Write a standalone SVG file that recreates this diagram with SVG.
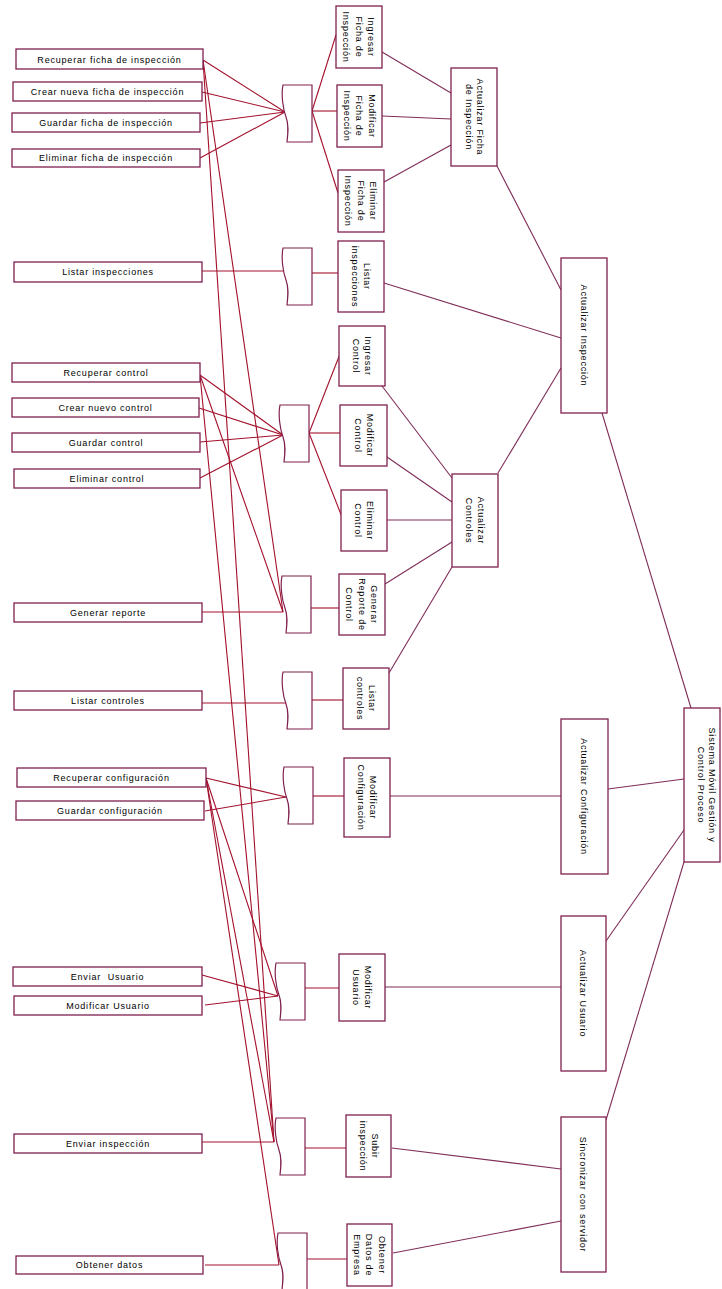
<svg xmlns="http://www.w3.org/2000/svg" xmlns:xlink="http://www.w3.org/1999/xlink" width="722" height="1289" viewBox="0 0 722 1289">
  <style>
    .box { fill: #ffffff; stroke: #80204f; stroke-width: 1.3; }
    .fold { fill: #ffffff; stroke: #80204f; stroke-width: 1.2; }
    .lbl { font-family: "Liberation Sans", Arial, sans-serif; font-size: 9px; letter-spacing: 0.8px; fill: #000000; text-anchor: middle; }
    .vl { font-family: "Liberation Sans", Arial, sans-serif; font-size: 9px; letter-spacing: 0.8px; fill: #000000; text-anchor: middle; }
    .op { stroke: #a3102c; stroke-width: 1.1; fill: none; }
    .ln { stroke: #7f2d58; stroke-width: 1.1; fill: none; }
  </style>
  <defs>
    <!-- screen / interface symbol with a wavy left side -->
    <path id="folder" d="M1,0 H30 V57 H5 C6,48 7,40 4,32 C1,24 -1,10 1,0 Z"/>
  </defs>
  <rect width="722" height="1289" fill="#ffffff"/>

  <g id="connectors">
    <!-- operations to screens -->
    <line class="op" x1="203" y1="60" x2="285" y2="112"/>
    <line class="op" x1="202" y1="92" x2="285" y2="112"/>
    <line class="op" x1="200" y1="123" x2="285" y2="112"/>
    <line class="op" x1="200" y1="158" x2="285" y2="112"/>
    <line class="op" x1="202" y1="271" x2="283" y2="271"/>
    <line class="op" x1="200" y1="375" x2="283" y2="435"/>
    <line class="op" x1="199" y1="408" x2="283" y2="435"/>
    <line class="op" x1="200" y1="442" x2="283" y2="435"/>
    <line class="op" x1="200" y1="478" x2="283" y2="435"/>
    <line class="op" x1="202" y1="612" x2="283" y2="612"/>
    <line class="op" x1="202" y1="703" x2="286" y2="703"/>
    <line class="op" x1="206" y1="778" x2="286" y2="797"/>
    <line class="op" x1="205" y1="811" x2="286" y2="797"/>
    <line class="op" x1="202" y1="975" x2="278" y2="996"/>
    <line class="op" x1="205" y1="1005" x2="278" y2="996"/>
    <line class="op" x1="200" y1="1142" x2="274" y2="1142"/>
    <line class="op" x1="205" y1="1265" x2="279" y2="1265"/>
    <!-- shared operations reaching lower screens -->
    <line class="op" x1="203" y1="60" x2="283" y2="612"/>
    <line class="op" x1="203" y1="60" x2="274" y2="1142"/>
    <line class="op" x1="200" y1="375" x2="283" y2="612"/>
    <line class="op" x1="200" y1="375" x2="274" y2="1142"/>
    <line class="op" x1="206" y1="778" x2="278" y2="996"/>
    <line class="op" x1="206" y1="778" x2="274" y2="1142"/>
    <line class="op" x1="206" y1="778" x2="279" y2="1265"/>

    <!-- screens to use cases -->
    <line class="op" x1="312" y1="111" x2="336" y2="35"/>
    <line class="op" x1="312" y1="111" x2="337" y2="111"/>
    <line class="op" x1="312" y1="111" x2="338" y2="193"/>
    <line class="op" x1="312" y1="273" x2="338" y2="273"/>
    <line class="op" x1="309" y1="433" x2="340" y2="354"/>
    <line class="op" x1="309" y1="433" x2="340" y2="433"/>
    <line class="op" x1="309" y1="433" x2="342" y2="517"/>
    <line class="op" x1="311" y1="608" x2="339" y2="608"/>
    <line class="op" x1="312" y1="700" x2="343" y2="700"/>
    <line class="op" x1="312" y1="796" x2="344" y2="796"/>
    <line class="op" x1="304" y1="988" x2="339" y2="988"/>
    <line class="op" x1="304" y1="1148" x2="346" y2="1148"/>
    <line class="op" x1="306" y1="1259" x2="347" y2="1259"/>

    <!-- use cases to grouping cases -->
    <line class="ln" x1="382" y1="52" x2="451" y2="93"/>
    <line class="ln" x1="382" y1="116" x2="451" y2="119"/>
    <line class="ln" x1="384" y1="182" x2="451" y2="145"/>
    <line class="ln" x1="382" y1="386" x2="452" y2="478"/>
    <line class="ln" x1="387" y1="457" x2="452" y2="502"/>
    <line class="ln" x1="387" y1="520" x2="452" y2="520"/>
    <line class="ln" x1="385" y1="584" x2="452" y2="542"/>
    <line class="ln" x1="389" y1="673" x2="452" y2="567"/>
    <line class="ln" x1="390" y1="796" x2="561" y2="796"/>
    <line class="ln" x1="385" y1="987" x2="561" y2="987"/>
    <line class="ln" x1="392" y1="1148" x2="561" y2="1169"/>
    <line class="ln" x1="393" y1="1253" x2="561" y2="1221"/>

    <!-- grouping cases to the system -->
    <line class="ln" x1="497" y1="166" x2="561" y2="290"/>
    <line class="ln" x1="384" y1="283" x2="561" y2="338"/>
    <line class="ln" x1="498" y1="473" x2="561" y2="368"/>
    <line class="ln" x1="602" y1="413" x2="691" y2="708"/>
    <line class="ln" x1="608" y1="789" x2="684" y2="779"/>
    <line class="ln" x1="606" y1="941" x2="684" y2="830"/>
    <line class="ln" x1="606" y1="1120" x2="684" y2="862"/>
  </g>

  <!-- left column: operations -->
  <g id="op-recuperar-ficha"><rect class="box" x="16" y="49" width="187" height="20"/><text class="lbl" x="109.5" y="62.5">Recuperar ficha de inspección</text></g>
  <g id="op-crear-ficha"><rect class="box" x="13" y="82" width="189" height="19"/><text class="lbl" x="107.5" y="94.8">Crear nueva ficha de inspección</text></g>
  <g id="op-guardar-ficha"><rect class="box" x="12" y="113" width="188" height="19"/><text class="lbl" x="106" y="125.8">Guardar ficha de inspección</text></g>
  <g id="op-eliminar-ficha"><rect class="box" x="12" y="149" width="188" height="18"/><text class="lbl" x="106" y="161.3">Eliminar ficha de inspección</text></g>
  <g id="op-listar-insp"><rect class="box" x="14" y="262" width="188" height="20"/><text class="lbl" x="108" y="275.3">Listar inspecciones</text></g>
  <g id="op-recuperar-control"><rect class="box" x="12" y="363" width="188" height="19"/><text class="lbl" x="106" y="375.8">Recuperar control</text></g>
  <g id="op-crear-control"><rect class="box" x="12" y="398" width="187" height="19"/><text class="lbl" x="105.5" y="410.8">Crear nuevo control</text></g>
  <g id="op-guardar-control"><rect class="box" x="12" y="433" width="188" height="19"/><text class="lbl" x="106" y="445.8">Guardar control</text></g>
  <g id="op-eliminar-control"><rect class="box" x="14" y="469" width="186" height="19"/><text class="lbl" x="107" y="481.8">Eliminar control</text></g>
  <g id="op-generar-reporte"><rect class="box" x="14" y="603" width="188" height="19"/><text class="lbl" x="108" y="615.8">Generar reporte</text></g>
  <g id="op-listar-controles"><rect class="box" x="14" y="691" width="188" height="19"/><text class="lbl" x="108" y="703.8">Listar controles</text></g>
  <g id="op-recuperar-config"><rect class="box" x="17" y="768" width="189" height="19"/><text class="lbl" x="111.5" y="780.8">Recuperar configuración</text></g>
  <g id="op-guardar-config"><rect class="box" x="16" y="801" width="188" height="19"/><text class="lbl" x="110" y="813.8">Guardar configuración</text></g>
  <g id="op-enviar-usuario"><rect class="box" x="13" y="967" width="189" height="19"/><text class="lbl" x="107.5" y="979.8" xml:space="preserve">Enviar  Usuario</text></g>
  <g id="op-modificar-usuario"><rect class="box" x="14" y="996" width="188" height="19"/><text class="lbl" x="108" y="1008.8">Modificar Usuario</text></g>
  <g id="op-enviar-insp"><rect class="box" x="14" y="1134" width="188" height="19"/><text class="lbl" x="108" y="1146.8">Enviar inspección</text></g>
  <g id="op-obtener-datos"><rect class="box" x="16" y="1256" width="187" height="18"/><text class="lbl" x="109.5" y="1268.3">Obtener datos</text></g>

  <!-- screens -->
  <g id="scr-ficha"><use xlink:href="#folder" class="fold" x="282" y="85"/></g>
  <g id="scr-listar-insp"><use xlink:href="#folder" class="fold" x="282" y="248"/></g>
  <g id="scr-control"><use xlink:href="#folder" class="fold" x="279" y="405"/></g>
  <g id="scr-reporte"><use xlink:href="#folder" class="fold" x="281" y="576"/></g>
  <g id="scr-listar-ctrl"><use xlink:href="#folder" class="fold" x="282" y="672"/></g>
  <g id="scr-config"><use xlink:href="#folder" class="fold" x="283" y="767"/></g>
  <g id="scr-usuario"><use xlink:href="#folder" class="fold" x="275" y="963"/></g>
  <g id="scr-subir"><use xlink:href="#folder" class="fold" x="275" y="1118"/></g>
  <g id="scr-obtener"><use xlink:href="#folder" class="fold" x="277" y="1233"/></g>

  <!-- use cases (labels run top to bottom) -->
  <g id="uc-ingresar-ficha"><rect class="box" x="336" y="6" width="46" height="62"/>
    <text class="vl" transform="translate(359,37) rotate(90)"><tspan x="0" y="-9.3">Ingresar</tspan><tspan x="0" dy="12.5">Ficha de</tspan><tspan x="0" dy="12.5">Inspección</tspan></text></g>
  <g id="uc-modificar-ficha"><rect class="box" x="337" y="85" width="45" height="62"/>
    <text class="vl" transform="translate(359.5,116) rotate(90)"><tspan x="0" y="-9.3">Modificar</tspan><tspan x="0" dy="12.5">Ficha de</tspan><tspan x="0" dy="12.5">Inspección</tspan></text></g>
  <g id="uc-eliminar-ficha"><rect class="box" x="338" y="170" width="46" height="62"/>
    <text class="vl" transform="translate(361,201) rotate(90)"><tspan x="0" y="-9.3">Eliminar</tspan><tspan x="0" dy="12.5">Ficha de</tspan><tspan x="0" dy="12.5">Inspección</tspan></text></g>
  <g id="uc-actualizar-ficha"><rect class="box" x="451" y="68" width="46" height="98"/>
    <text class="vl" transform="translate(474,117) rotate(90)"><tspan x="0" y="-2.5">Actualizar Ficha</tspan><tspan x="0" dy="11">de Inspección</tspan></text></g>
  <g id="uc-listar-insp"><rect class="box" x="338" y="241" width="46" height="71"/>
    <text class="vl" transform="translate(361,276.5) rotate(90)"><tspan x="0" y="-3">Listar</tspan><tspan x="0" dy="12">inspecciones</tspan></text></g>
  <g id="uc-ingresar-control"><rect class="box" x="339" y="326" width="46" height="60"/>
    <text class="vl" transform="translate(362,356) rotate(90)"><tspan x="0" y="-3">Ingresar</tspan><tspan x="0" dy="12">Control</tspan></text></g>
  <g id="uc-modificar-control"><rect class="box" x="340" y="405" width="47" height="61"/>
    <text class="vl" transform="translate(363.5,435.5) rotate(90)"><tspan x="0" y="-3">Modificar</tspan><tspan x="0" dy="12">Control</tspan></text></g>
  <g id="uc-eliminar-control"><rect class="box" x="341" y="490" width="46" height="61"/>
    <text class="vl" transform="translate(364,520.5) rotate(90)"><tspan x="0" y="-3">Eliminar</tspan><tspan x="0" dy="12">Control</tspan></text></g>
  <g id="uc-generar-reporte"><rect class="box" x="339" y="574" width="46" height="61"/>
    <text class="vl" transform="translate(362,604.5) rotate(90)"><tspan x="0" y="-9.3">Generar</tspan><tspan x="0" dy="12.5">Reporte de</tspan><tspan x="0" dy="12.5">Control</tspan></text></g>
  <g id="uc-listar-controles"><rect class="box" x="343" y="668" width="46" height="61"/>
    <text class="vl" transform="translate(366,698.5) rotate(90)"><tspan x="0" y="-3">Listar</tspan><tspan x="0" dy="12">controles</tspan></text></g>
  <g id="uc-actualizar-controles"><rect class="box" x="452" y="474" width="46" height="93"/>
    <text class="vl" transform="translate(475,520.5) rotate(90)"><tspan x="0" y="-3">Actualizar</tspan><tspan x="0" dy="12">Controles</tspan></text></g>
  <g id="uc-modificar-config"><rect class="box" x="344" y="758" width="46" height="79"/>
    <text class="vl" transform="translate(367,797.5) rotate(90)"><tspan x="0" y="-3">Modificar</tspan><tspan x="0" dy="12">Configuración</tspan></text></g>
  <g id="uc-modificar-usuario"><rect class="box" x="339" y="954" width="46" height="67"/>
    <text class="vl" transform="translate(362,987.5) rotate(90)"><tspan x="0" y="-3">Modificar</tspan><tspan x="0" dy="12">Usuario</tspan></text></g>
  <g id="uc-subir-insp"><rect class="box" x="346" y="1115" width="45" height="62"/>
    <text class="vl" transform="translate(368.5,1146) rotate(90)"><tspan x="0" y="-3">Subir</tspan><tspan x="0" dy="12">inspección</tspan></text></g>
  <g id="uc-obtener-empresa"><rect class="box" x="347" y="1224" width="45" height="62"/>
    <text class="vl" transform="translate(369.5,1255) rotate(90)"><tspan x="0" y="-9.3">Obtener</tspan><tspan x="0" dy="12.5">Datos de</tspan><tspan x="0" dy="12.5">Empresa</tspan></text></g>

  <!-- grouping use cases -->
  <g id="uc-actualizar-insp"><rect class="box" x="561" y="258" width="46" height="155"/>
    <text class="vl" transform="translate(584,335.5) rotate(90)" y="3.2">Actualizar Inspección</text></g>
  <g id="uc-actualizar-config"><rect class="box" x="561" y="719" width="47" height="155"/>
    <text class="vl" transform="translate(584.5,796.5) rotate(90)" y="3.2">Actualizar Configuración</text></g>
  <g id="uc-actualizar-usuario"><rect class="box" x="561" y="916" width="45" height="155"/>
    <text class="vl" transform="translate(583.5,993.5) rotate(90)" y="3.2">Actualizar Usuario</text></g>
  <g id="uc-sincronizar"><rect class="box" x="561" y="1117" width="45" height="155"/>
    <text class="vl" transform="translate(583.5,1194.5) rotate(90)" y="3.2">Sincronizar con servidor</text></g>

  <!-- system -->
  <g id="sistema"><rect class="box" x="684" y="708" width="36" height="154"/>
    <text class="vl" transform="translate(707,785) rotate(90)"><tspan x="0" y="-2.3">Sistema Móvil Gestión y</tspan><tspan x="0" dy="11">Control Proceso</tspan></text></g>
</svg>
